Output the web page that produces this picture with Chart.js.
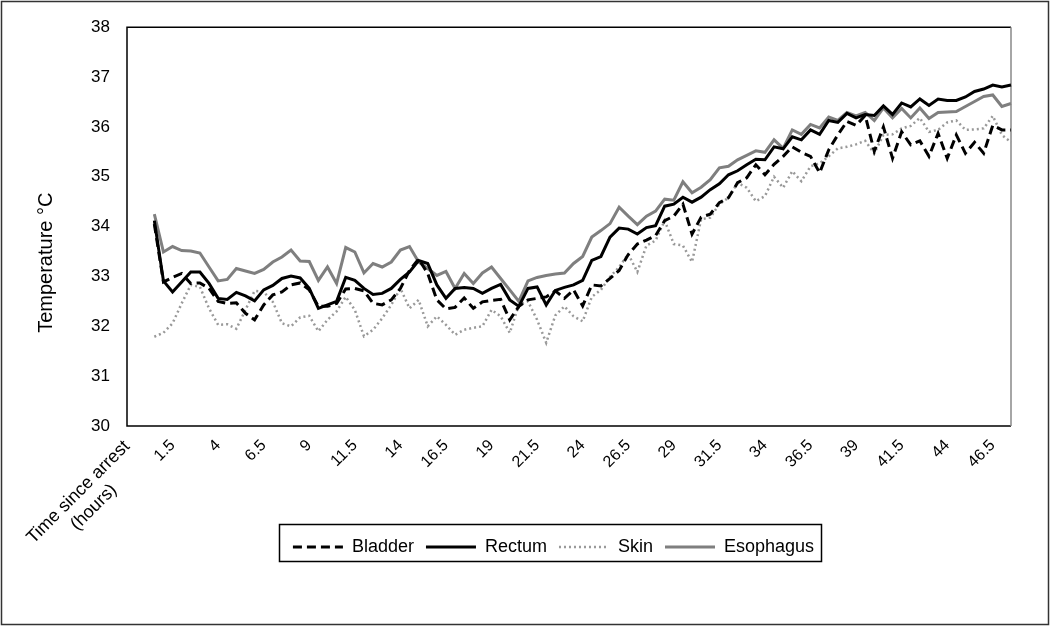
<!DOCTYPE html>
<html>
<head>
<meta charset="utf-8">
<script src="https://cdn.jsdelivr.net/npm/chart.js@4.4.1/dist/chart.umd.min.js"></script>
<style>
  body { margin: 0; background: #fff; }
</style>
</head>
<body>
<canvas id="temps" width="1050" height="626"></canvas>
<script>
// hours since arrest, one reading every half hour
const hours = [0.5, 1, 1.5, 2, 2.5, 3, 3.5, 4, 4.5, 5, 5.5, 6, 6.5, 7, 7.5, 8, 8.5, 9, 9.5, 10,
  10.5, 11, 11.5, 12, 12.5, 13, 13.5, 14, 14.5, 15, 15.5, 16, 16.5, 17, 17.5, 18, 18.5, 19, 19.5, 20,
  20.5, 21, 21.5, 22, 22.5, 23, 23.5, 24, 24.5, 25, 25.5, 26, 26.5, 27, 27.5, 28, 28.5, 29, 29.5, 30,
  30.5, 31, 31.5, 32, 32.5, 33, 33.5, 34, 34.5, 35, 35.5, 36, 36.5, 37, 37.5, 38, 38.5, 39, 39.5, 40,
  40.5, 41, 41.5, 42, 42.5, 43, 43.5, 44, 44.5, 45, 45.5, 46, 46.5, 47, 47.5]

const bladder = [34.05, 32.89, 32.98, 33.06, 32.86, 32.87, 32.76, 32.50, 32.46, 32.47,
  32.26, 32.13, 32.43, 32.63, 32.69, 32.83, 32.87, 32.73, 32.40, 32.40,
  32.46, 32.75, 32.76, 32.71, 32.46, 32.43, 32.53, 32.76, 33.12, 33.35,
  33.06, 32.53, 32.35, 32.38, 32.57, 32.36, 32.49, 32.52, 32.54, 32.13,
  32.40, 32.53, 32.56, 32.59, 32.71, 32.56, 32.73, 32.41, 32.83, 32.81,
  32.96, 33.12, 33.44, 33.65, 33.73, 33.82, 34.12, 34.21, 34.45, 33.85,
  34.19, 34.25, 34.48, 34.58, 34.88, 34.98, 35.24, 35.04, 35.25, 35.41,
  35.60, 35.49, 35.41, 35.08, 35.54, 35.84, 36.11, 36.03, 36.23, 35.51,
  36.00, 35.37, 35.90, 35.64, 35.72, 35.41, 35.87, 35.37, 35.84, 35.47,
  35.69, 35.47, 36.03, 35.94, 35.94]

const rectum = [34.12, 32.91, 32.69, 32.89, 33.09, 33.09, 32.86, 32.56, 32.54, 32.68,
  32.61, 32.51, 32.73, 32.82, 32.96, 33.01, 32.97, 32.76, 32.36, 32.43,
  32.50, 32.98, 32.92, 32.76, 32.64, 32.66, 32.76, 32.94, 33.09, 33.32,
  33.26, 32.83, 32.56, 32.76, 32.78, 32.76, 32.66, 32.76, 32.84, 32.53,
  32.40, 32.76, 32.79, 32.43, 32.72, 32.78, 32.83, 32.92, 33.32, 33.40,
  33.79, 33.97, 33.95, 33.85, 33.98, 34.02, 34.41, 34.45, 34.59, 34.49,
  34.59, 34.74, 34.86, 35.04, 35.12, 35.24, 35.35, 35.34, 35.60, 35.56,
  35.80, 35.74, 35.94, 35.85, 36.13, 36.09, 36.27, 36.18, 36.25, 36.23,
  36.42, 36.25, 36.48, 36.40, 36.56, 36.43, 36.56, 36.53, 36.53, 36.60,
  36.71, 36.76, 36.84, 36.80, 36.84]

const skin = [31.79, 31.87, 32.06, 32.46, 32.83, 32.79, 32.36, 32.03, 32.04, 31.95,
  32.33, 32.71, 32.69, 32.49, 32.06, 32.00, 32.18, 32.21, 31.90, 32.13,
  32.30, 32.59, 32.33, 31.80, 31.93, 32.16, 32.43, 32.76, 32.36, 32.53,
  32.00, 32.20, 32.03, 31.83, 31.93, 31.97, 32.00, 32.33, 32.20, 31.87,
  32.43, 32.50, 32.13, 31.67, 32.22, 32.40, 32.20, 32.10, 32.59, 32.73,
  32.99, 33.19, 33.45, 33.09, 33.62, 33.72, 34.12, 33.65, 33.62, 33.29,
  34.15, 34.18, 34.45, 34.58, 34.88, 34.78, 34.51, 34.61, 35.00, 34.78,
  35.11, 34.91, 35.21, 35.27, 35.41, 35.57, 35.60, 35.65, 35.72, 35.47,
  35.84, 35.85, 35.97, 36.02, 36.18, 35.90, 35.94, 36.09, 36.13, 35.94,
  35.95, 35.97, 36.22, 35.84, 35.69]

const esophagus = [34.25, 33.49, 33.60, 33.52, 33.51, 33.47, 33.19, 32.91, 32.94, 33.16,
  33.11, 33.06, 33.14, 33.29, 33.39, 33.53, 33.31, 33.30, 32.92, 33.19,
  32.86, 33.58, 33.49, 33.07, 33.26, 33.19, 33.29, 33.53, 33.60, 33.29,
  33.16, 33.02, 33.10, 32.76, 33.06, 32.86, 33.07, 33.19, 32.96, 32.73,
  32.50, 32.91, 32.98, 33.02, 33.05, 33.07, 33.26, 33.40, 33.79, 33.92,
  34.06, 34.39, 34.21, 34.04, 34.21, 34.31, 34.55, 34.53, 34.90, 34.68,
  34.79, 34.94, 35.18, 35.21, 35.34, 35.43, 35.52, 35.49, 35.74, 35.57,
  35.94, 35.85, 36.05, 35.98, 36.20, 36.13, 36.29, 36.22, 36.29, 36.13,
  36.38, 36.18, 36.37, 36.18, 36.38, 36.17, 36.29, 36.30, 36.31, 36.41,
  36.51, 36.61, 36.64, 36.41, 36.47]

// first category holds the axis caption (second line padded so it sits centred),
// then two empty slots before the readings start
const leadLabels = [['Time since arrest', '(hours)        '], '', '']
const categories = leadLabels.concat(hours)
const pad = arr => [null, null, null].concat(arr)

const font = "'Liberation Sans', Arial, sans-serif"

const framePlugin = {
  id: 'framePlugin',
  afterLayout(chart) {
    // x axis box is kept tall so the long caption isn't clipped,
    // so pull the legend back up and across under the plot
    const lg = chart.legend
    lg.top -= 30
    lg.bottom -= 30
    lg.left += 48
    lg.right += 48
  },
  beforeDraw(chart) {
    const ctx = chart.ctx
    ctx.save()
    ctx.fillStyle = '#fff'
    ctx.fillRect(0, 0, chart.width, chart.height)
    ctx.strokeStyle = '#333'
    ctx.lineWidth = 1.5
    ctx.strokeRect(1.5, 1.5, chart.width - 3, chart.height - 3)
    ctx.restore()
  },
  beforeDatasetsDraw(chart) {
    const ctx = chart.ctx
    const { left, top, right, bottom } = chart.chartArea
    ctx.save()
    ctx.strokeStyle = '#000'
    ctx.lineWidth = 1.5
    ctx.beginPath()
    ctx.moveTo(right, top)
    ctx.lineTo(left, top)
    ctx.lineTo(left, bottom)
    ctx.lineTo(right, bottom)
    ctx.stroke()
    ctx.strokeStyle = '#888'
    ctx.beginPath()
    ctx.moveTo(right, top)
    ctx.lineTo(right, bottom)
    ctx.stroke()
    ctx.restore()
  },
  afterDraw(chart) {
    const boxes = chart.legend.legendHitBoxes
    if (!boxes || !boxes.length) return
    const ctx = chart.ctx
    const l = Math.min(...boxes.map(b => b.left)) - 14
    const r = Math.max(...boxes.map(b => b.left + b.width)) + 7
    const t = boxes[0].top - 14
    const b = boxes[0].top + boxes[0].height + 5
    ctx.save()
    ctx.strokeStyle = '#000'
    ctx.lineWidth = 1.5
    ctx.strokeRect(Math.round(l) + 0.5, Math.round(t) + 0.5, Math.round(r - l), Math.round(b - t))
    ctx.restore()
  }
}

new Chart(document.getElementById('temps'), {
  type: 'line',
  data: {
    labels: categories,
    datasets: [
      { label: 'Bladder', data: pad(bladder), borderColor: '#000', borderWidth: 3, borderDash: [9, 5] },
      { label: 'Rectum', data: pad(rectum), borderColor: '#000', borderWidth: 3 },
      { label: 'Skin', data: pad(skin), borderColor: '#999', borderWidth: 2.5, borderDash: [2, 3] },
      { label: 'Esophagus', data: pad(esophagus), borderColor: '#7f7f7f', borderWidth: 3 }
    ]
  },
  options: {
    responsive: false,
    animation: false,
    devicePixelRatio: 1,
    elements: { point: { radius: 0 }, line: { tension: 0, backgroundColor: 'transparent' } },
    layout: { padding: { left: 0, right: 39, top: 21, bottom: 30 } },
    plugins: {
      tooltip: { enabled: false },
      legend: {
        position: 'bottom',
        labels: {
          usePointStyle: true,
          pointStyle: 'line',
          pointStyleWidth: 50,
          padding: 12,
          color: '#000',
          font: { family: font, size: 18 },
          generateLabels(chart) {
            // legend lines take the dash and width of their dataset
            const items = Chart.defaults.plugins.legend.labels.generateLabels(chart)
            return items.map(it => {
              const ds = chart.data.datasets[it.datasetIndex]
              return Object.assign(it, {
                strokeStyle: ds.borderColor,
                lineWidth: ds.borderWidth,
                lineDash: ds.borderDash || []
              })
            })
          }
        }
      }
    },
    scales: {
      x: {
        type: 'category',
        offset: false,
        grid: { display: false, drawTicks: false },
        border: { display: false },
        ticks: {
          autoSkip: false,
          maxRotation: 45,
          minRotation: 45,
          padding: 10,
          color: '#000',
          font: ctx => ({ family: font, size: ctx.index === 0 ? 18 : 16 }),
          callback: function (v, i) { return i % 5 === 0 ? this.getLabelForValue(v) : '' }
        },
        afterFit(s) { s.height = 130; s.paddingLeft = 0; s.paddingRight = 0 }
      },
      y: {
        min: 30,
        max: 38,
        grid: { display: false, drawTicks: false },
        border: { display: false },
        ticks: { stepSize: 1, padding: 17, color: '#000', font: { family: font, size: 17 } },
        title: {
          display: true,
          // trailing spaces push the caption down to where the original sits
          text: 'Temperature °C             ',
          color: '#000',
          font: { family: font, size: 20 },
          padding: { top: 34, bottom: 0 }
        },
        afterFit(s) { s.width = 127 }
      }
    }
  },
  plugins: [framePlugin]
})
</script>
</body>
</html>
